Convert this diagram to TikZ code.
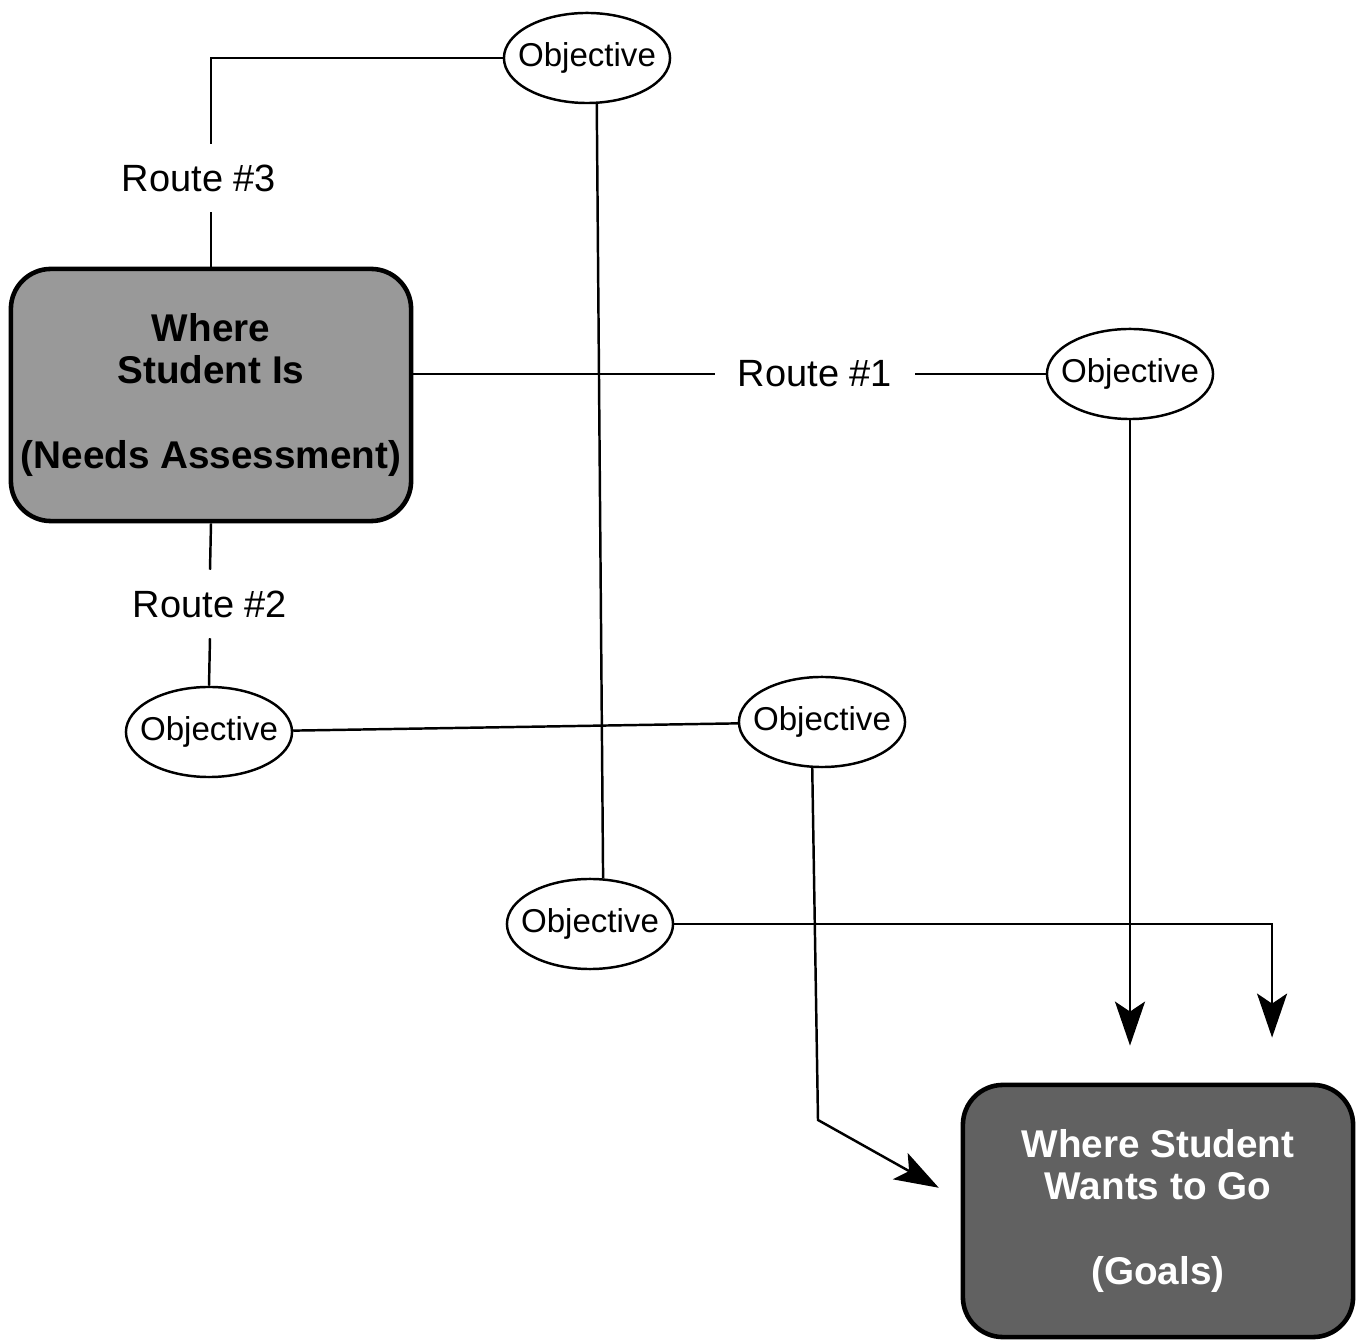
\documentclass[tikz,border=0pt]{standalone}
\usepackage{fontspec}
\setmainfont{Liberation Sans}
\usetikzlibrary{arrows.meta, positioning, shapes.geometric}

\begin{document}
\begin{tikzpicture}[
  x=0.01cm, y=-0.01cm,
  line width=0.7pt,
  place/.style={draw, rounded corners=4mm, line width=1.3pt, inner sep=1pt,
                minimum width=4.0cm, minimum height=2.52cm, align=center,
                font=\fontsize{11}{12}\selectfont\bfseries},
  obj/.style={draw, ellipse, minimum width=1.66cm, minimum height=0.9cm,
              inner xsep=-3mm, inner ysep=0pt, font=\fontsize{9.4}{11}\selectfont},
  route/.style={inner xsep=2.2mm, minimum height=6.6mm, font=\fontsize{10.8}{12}\selectfont},
  arr/.style={-{Stealth[length=4.4mm, width=3mm, inset=1mm]}}
]
  \useasboundingbox (0,0) rectangle (1357,1340);

  \node[place, fill=black!40] (now) at (211,395)
    {Where\\Student Is\\[12pt](Needs Assessment)};
  \node[place, fill=black!62, text=white, minimum width=3.9cm] (goal) at (1158,1211)
    {Where Student\\Wants to Go\\[12pt](Goals)};

  \node[obj] (otop)   at (587,58)   {Objective};
  \node[obj] (oright) at (1130,374) {Objective};
  \node[obj] (oleft)  at (209,732)  {Objective};
  \node[obj] (omid)   at (822,722)  {Objective};
  \node[obj] (obot)   at (590,924)  {Objective};

  \node[route] (r3) at (199,178) {Route \#3};
  \node[route] (r2) at (210,604) {Route \#2};
  \node[route] (r1) at (815,374) {Route \#1};

  \coordinate (kink) at (818,1120);

  % routes out of the starting box
  \draw (now.north) -- (now.north |- r3.south);
  \draw (now.north |- r3.north) |- (otop.west);
  \draw (now.south) -- (r2.north);
  \draw (r2.south) -- (oleft.north);
  \draw (r1.west -| now.east) -- (r1.west);
  \draw (r1.east) -- (oright.west);

  % links between objectives
  \draw (otop.-78) -- (obot.74);
  \draw (oleft) -- (omid);

  % into the goals
  \draw[arr, shorten >=2.5mm] (omid.-102) -- (kink) -- ([yshift=1.1mm]goal.west);
  \draw[arr, shorten >=3.7mm] (oright.south) -- (oright.south |- goal.north);
  \draw[arr, shorten >=4.5mm] (obot.east) -| ([xshift=1.14cm]goal.north);
\end{tikzpicture}
\end{document}
